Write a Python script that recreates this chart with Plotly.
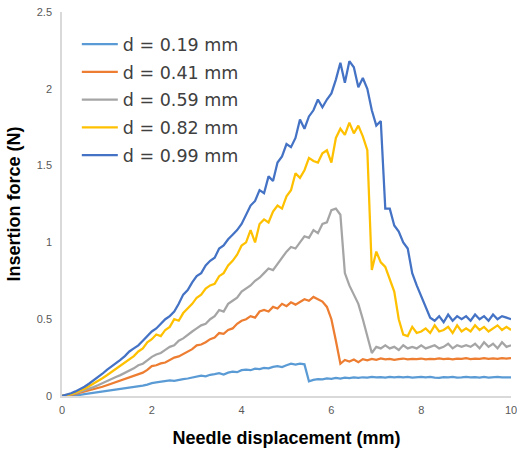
import numpy as np
import plotly.graph_objects as go

# displacement grid (mm)
x_mm = np.round(np.arange(0, 10.001, 0.1), 1)

series_names = ["d = 0.19 mm", "d = 0.41 mm", "d = 0.59 mm", "d = 0.82 mm", "d = 0.99 mm"]

f019 = [0, 0.001, 0.003, 0.005, 0.008, 0.012, 0.016, 0.02, 0.024, 0.028,
        0.032, 0.036, 0.041, 0.045, 0.05, 0.055, 0.06, 0.064, 0.068, 0.074,
        0.084, 0.088, 0.092, 0.096, 0.102, 0.098, 0.106, 0.11, 0.114, 0.12,
        0.126, 0.132, 0.128, 0.138, 0.142, 0.148, 0.14, 0.152, 0.158, 0.155,
        0.168, 0.172, 0.168, 0.178, 0.175, 0.183, 0.18, 0.19, 0.194, 0.188,
        0.2, 0.21, 0.204, 0.21, 0.206, 0.095, 0.105, 0.11, 0.108, 0.115,
        0.112, 0.118, 0.114, 0.12, 0.117, 0.121, 0.118, 0.122, 0.12, 0.124,
        0.121, 0.123, 0.12, 0.124, 0.122, 0.125, 0.121, 0.124, 0.12, 0.123,
        0.125, 0.121, 0.124, 0.12, 0.118, 0.123, 0.121, 0.124, 0.12, 0.122,
        0.125, 0.121, 0.123, 0.119, 0.124, 0.12, 0.123, 0.125, 0.121, 0.123,
        0.122]

f041 = [0, 0.003, 0.008, 0.014, 0.021, 0.028, 0.035, 0.043, 0.05, 0.06,
        0.07, 0.08, 0.088, 0.098, 0.108, 0.12, 0.13, 0.142, 0.152, 0.17,
        0.195, 0.2, 0.212, 0.218, 0.232, 0.25, 0.258, 0.274, 0.29, 0.305,
        0.33, 0.335, 0.35, 0.37, 0.38, 0.41, 0.405, 0.43, 0.44, 0.47,
        0.49, 0.5, 0.52, 0.51, 0.55, 0.56, 0.55, 0.58, 0.57, 0.6,
        0.585, 0.61, 0.595, 0.615, 0.63, 0.62, 0.645, 0.63, 0.615, 0.58,
        0.5, 0.36, 0.21, 0.235, 0.225, 0.238, 0.22, 0.24, 0.232, 0.242,
        0.236, 0.244, 0.238, 0.242, 0.236, 0.24, 0.244, 0.238, 0.242, 0.24,
        0.244, 0.238, 0.242, 0.24, 0.245, 0.24, 0.243, 0.239, 0.244, 0.242,
        0.246, 0.24, 0.244, 0.241, 0.246, 0.242, 0.245, 0.241, 0.246, 0.244,
        0.247]

f059 = [0, 0.004, 0.01, 0.018, 0.027, 0.036, 0.046, 0.058, 0.07, 0.084,
        0.1, 0.112, 0.124, 0.136, 0.15, 0.168, 0.18, 0.2, 0.21, 0.232,
        0.255, 0.27, 0.28, 0.3, 0.32, 0.33, 0.36, 0.375, 0.4, 0.42,
        0.44, 0.46, 0.47, 0.5, 0.52, 0.56, 0.55, 0.6, 0.62, 0.64,
        0.68, 0.7, 0.72, 0.75, 0.77, 0.8, 0.83, 0.82, 0.86, 0.9,
        0.94, 0.97, 0.96, 1.0, 1.04, 1.03, 1.08, 1.06, 1.12, 1.13,
        1.21, 1.22, 1.18, 0.8, 0.72, 0.66, 0.6, 0.5, 0.38, 0.28,
        0.32, 0.31, 0.33, 0.31, 0.32, 0.3, 0.33, 0.31, 0.32, 0.31,
        0.33, 0.31, 0.32, 0.33, 0.31, 0.32, 0.34, 0.31, 0.33, 0.32,
        0.33, 0.32, 0.34, 0.31, 0.35, 0.32, 0.34, 0.31, 0.35, 0.32,
        0.33]

f082 = [0, 0.005, 0.012, 0.022, 0.034, 0.048, 0.064, 0.08, 0.098, 0.116,
        0.135, 0.155, 0.175, 0.195, 0.215, 0.24, 0.26, 0.29, 0.31, 0.35,
        0.37, 0.4, 0.39, 0.43, 0.45, 0.5, 0.49, 0.54, 0.57, 0.6,
        0.64, 0.66, 0.7, 0.72, 0.73, 0.78, 0.8, 0.85, 0.88, 0.92,
        0.98, 1.0, 1.08, 1.0, 1.12, 1.15, 1.13, 1.2, 1.24, 1.22,
        1.3, 1.34, 1.45, 1.42, 1.47, 1.55, 1.53, 1.52, 1.58, 1.6,
        1.52, 1.68, 1.74, 1.7, 1.78, 1.71, 1.76, 1.69, 1.6, 0.82,
        0.94, 0.87, 0.84, 0.76, 0.68, 0.5, 0.4, 0.39, 0.45, 0.41,
        0.42, 0.44, 0.41, 0.46, 0.42, 0.43, 0.45, 0.41, 0.46, 0.42,
        0.44, 0.42, 0.46, 0.43, 0.45, 0.42, 0.44, 0.46, 0.43, 0.45,
        0.43]

f099 = [0, 0.008, 0.018, 0.03, 0.044, 0.06, 0.08, 0.1, 0.122, 0.145,
        0.17, 0.19, 0.21, 0.235, 0.26, 0.29, 0.31, 0.33, 0.36, 0.39,
        0.42, 0.44, 0.47, 0.5, 0.52, 0.55, 0.6, 0.66, 0.69, 0.74,
        0.78, 0.8, 0.85, 0.88, 0.9, 0.96, 0.98, 1.02, 1.05, 1.08,
        1.12, 1.18, 1.24, 1.27, 1.34, 1.32, 1.43, 1.4, 1.52, 1.56,
        1.64, 1.62, 1.68, 1.8, 1.74, 1.82, 1.86, 1.93, 1.88, 1.93,
        1.97, 2.06, 2.17, 2.04, 2.18, 2.14, 2.01, 2.07, 2.0, 1.86,
        1.76, 1.79, 1.22, 1.22, 1.11, 1.07, 1.0, 0.96, 0.8, 0.72,
        0.65, 0.57, 0.51, 0.49, 0.52, 0.48, 0.53, 0.49, 0.52, 0.5,
        0.52, 0.49, 0.53, 0.5, 0.52, 0.49, 0.53, 0.5, 0.52, 0.51,
        0.5]

colors = ["#5B9BD5", "#ED7D31", "#A5A5A5", "#FFC000", "#4472C4"]
all_series = [f019, f041, f059, f082, f099]

x_ticks = [0, 2, 4, 6, 8, 10]
y_ticks = [0, 0.5, 1, 1.5, 2, 2.5]
y_tick_text = ["0", "0.5", "1", "1.5", "2", "2.5"]

fig = go.Figure()
for i, (name, ys, c) in enumerate(zip(series_names, all_series, colors)):
    fig.add_trace(go.Scatter(x=x_mm, y=ys, mode="lines", name=name,
                             legendgroup=f"g{i}",
                             line=dict(color=c, width=2.25)))

font_main = "Liberation Sans, Arial, sans-serif"
fig.update_layout(
    width=517, height=449,
    margin=dict(l=62, r=6, t=12, b=53),
    paper_bgcolor="white", plot_bgcolor="white",
    font=dict(family=font_main, color="#595959"),
    showlegend=True,
    legend=dict(x=0.033, y=0.963, xanchor="left", yanchor="top",
                font=dict(size=17.5, color="#404040", family="DejaVu Sans"),
                itemwidth=36,
                bgcolor="rgba(0,0,0,0)", tracegroupgap=2),
    xaxis=dict(range=[0, 10], tickvals=x_ticks, showgrid=False, zeroline=False,
               showline=True, linecolor="#D9D9D9", linewidth=1.5, ticks="",
               automargin=False, ticklabelstandoff=3, ticklabeloverflow="allow",
               tickfont=dict(size=11, color="#595959"),
               title=dict(text="<b>Needle displacement (mm)</b>",
                          font=dict(size=18, color="#000000"), standoff=16)),
    yaxis=dict(range=[0, 2.5], tickvals=y_ticks, ticktext=y_tick_text,
               showgrid=False, zeroline=False, automargin=False,
               showline=True, linecolor="#D9D9D9", linewidth=1.5, ticks="",
               ticklabeloverflow="allow",
               tickfont=dict(size=11, color="#595959"), ticklabelstandoff=6,
               title=dict(text="<b>Insertion force (N)</b>",
                          font=dict(size=18, color="#000000"), standoff=11)),
)

fig.write_html("out.html", config={"displayModeBar": False},
               post_script="document.body.style.margin='0';")
